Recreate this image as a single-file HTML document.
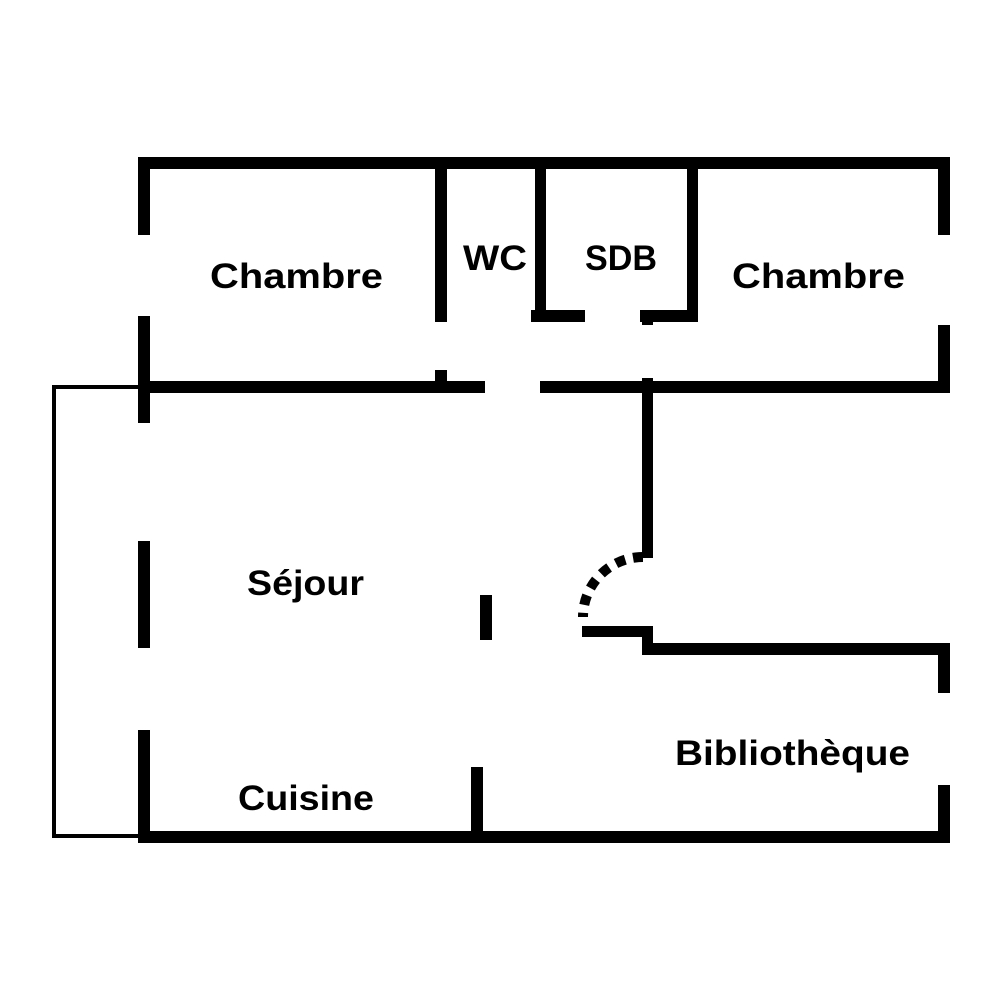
<!DOCTYPE html>
<html><head><style>
html,body{margin:0;padding:0;background:#fff;}
svg{display:block;}
text{font-family:"Liberation Sans",sans-serif;font-weight:bold;font-size:35px;fill:#000;}
</style></head><body>
<svg width="1000" height="1000" viewBox="0 0 1000 1000">
<g fill="#000">
<rect x="138" y="157" width="812" height="12"/>
<rect x="138" y="157" width="12" height="78"/>
<rect x="138" y="316" width="12" height="107"/>
<rect x="138" y="541" width="12" height="107"/>
<rect x="138" y="730" width="12" height="113"/>
<rect x="138" y="831" width="812" height="12"/>
<rect x="938" y="157" width="12" height="78"/>
<rect x="938" y="325" width="12" height="68"/>
<rect x="938" y="643" width="12" height="50"/>
<rect x="938" y="785" width="12" height="58"/>
<rect x="138" y="381" width="347" height="12"/>
<rect x="540" y="381" width="410" height="12"/>
<rect x="435" y="370" width="12" height="12"/>
<rect x="435" y="157" width="12" height="165"/>
<rect x="535" y="157" width="11" height="165"/>
<rect x="531" y="310" width="54" height="12"/>
<rect x="687" y="157" width="11" height="165"/>
<rect x="640" y="310" width="58" height="12"/>
<rect x="642" y="310" width="11" height="15"/>
<rect x="642" y="378" width="11" height="180"/>
<rect x="582" y="626" width="71" height="11"/>
<rect x="642" y="626" width="11" height="29"/>
<rect x="642" y="643" width="308" height="12"/>
<rect x="480" y="595" width="12" height="45"/>
<rect x="471" y="767" width="12" height="76"/>
</g>
<path d="M643 557 A60 60 0 0 0 583 617" fill="none" stroke="#000" stroke-width="10" stroke-dasharray="10 8"/>
<path d="M140 387 H54 V836 H140" fill="none" stroke="#000" stroke-width="4"/>
<text x="210" y="288" textLength="173" lengthAdjust="spacingAndGlyphs">Chambre</text>
<text x="463" y="270" textLength="64" lengthAdjust="spacingAndGlyphs">WC</text>
<text x="585" y="270" textLength="72" lengthAdjust="spacingAndGlyphs">SDB</text>
<text x="732" y="288" textLength="173" lengthAdjust="spacingAndGlyphs">Chambre</text>
<text x="247" y="595" textLength="117" lengthAdjust="spacingAndGlyphs">Séjour</text>
<text x="238" y="810" textLength="136" lengthAdjust="spacingAndGlyphs">Cuisine</text>
<text x="675" y="765" textLength="235" lengthAdjust="spacingAndGlyphs">Bibliothèque</text>
</svg>
</body></html>
